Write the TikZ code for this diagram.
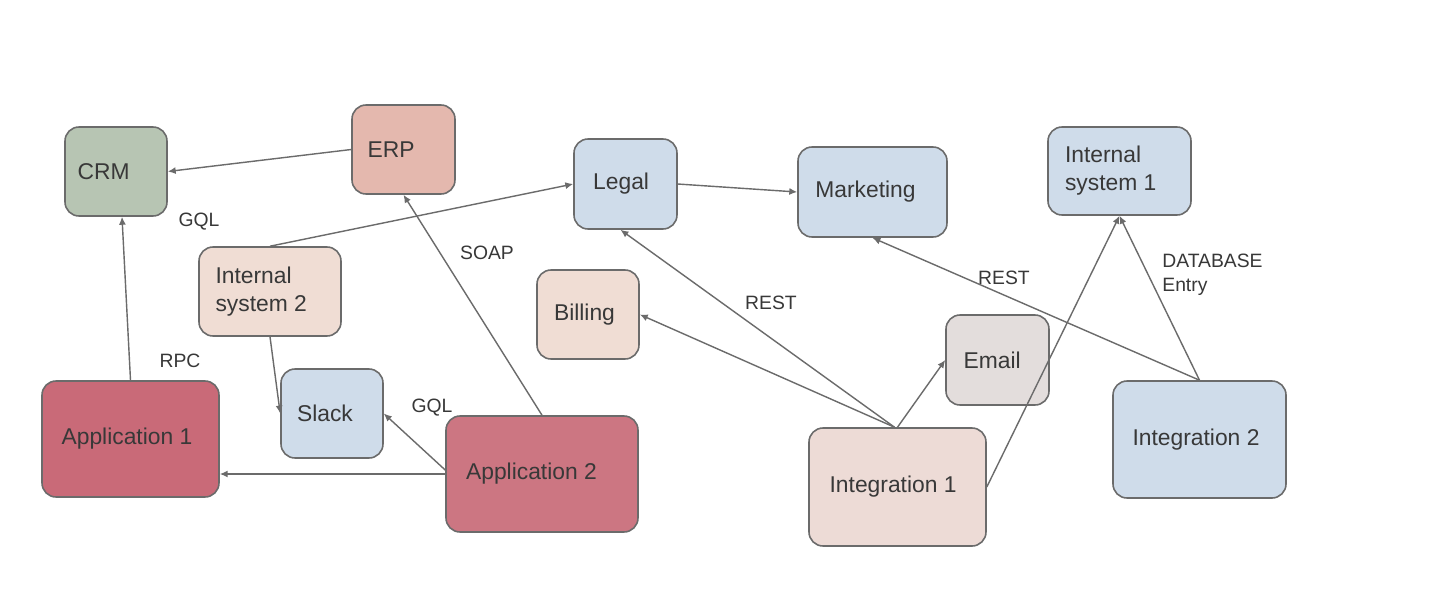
\documentclass[tikz,border=0pt]{standalone}
\usepackage{fontspec}
\setmainfont{Liberation Sans}
\usetikzlibrary{arrows.meta,calc}
\definecolor{crmc}{HTML}{B7C5B3}
\definecolor{erpc}{HTML}{E4B8AE}
\definecolor{bluec}{HTML}{CFDCEA}
\definecolor{pinkc}{HTML}{F0DDD4}
\definecolor{emailc}{HTML}{E3DDDC}
\definecolor{appa}{HTML}{C96A78}
\definecolor{appb}{HTML}{CC7682}
\definecolor{intc}{HTML}{EDDBD6}
\definecolor{edgec}{HTML}{6B6B6B}
\definecolor{txtc}{HTML}{383838}
\tikzset{
  box/.style={draw=edgec, line width=0.9pt, rounded corners=8pt, inner sep=0pt,
    align=left, text=txtc, font=\fontsize{13}{16}\selectfont},
  conn/.style={draw=edgec, line width=0.8pt, -{Latex[length=4.5pt,width=4pt]}},
  lbl/.style={text=txtc, font=\fontsize{11}{13.5}\selectfont, inner sep=0pt, align=left}
}
\begin{document}
\begin{tikzpicture}[x=0.02cm,y=-0.02cm]
\useasboundingbox (0,0) rectangle (1434,596);
\fill[white] (0,0) rectangle (1434,596);
% nodes
\node[box, fill=crmc, minimum width=102*0.02cm, minimum height=89*0.02cm] (crm) at (116,171.5) {CRM\hspace{14pt}};
\node[box, fill=erpc, minimum width=103*0.02cm, minimum height=89*0.02cm] (erp) at (403.5,149.5) {ERP\hspace{14pt}};
\node[box, fill=bluec, minimum width=103*0.02cm, minimum height=90*0.02cm] (legal) at (625.5,184) {Legal\hspace{5pt}};
\node[box, fill=bluec, minimum width=149*0.02cm, minimum height=90*0.02cm] (mkt) at (872.5,192) {Marketing\hspace{8pt}};
\node[box, fill=bluec, minimum width=143*0.02cm, minimum height=88*0.02cm] (is1) at (1119.5,171) {Internal\\system 1\hspace*{10pt}};
\node[box, fill=pinkc, minimum width=142*0.02cm, minimum height=89*0.02cm] (is2) at (270,291.5) {Internal\\system 2\hspace*{10pt}};
\node[box, fill=pinkc, minimum width=102*0.02cm, minimum height=89*0.02cm] (bill) at (588,314.5) {Billing\hspace{4pt}};
\node[box, fill=emailc, minimum width=103*0.02cm, minimum height=90*0.02cm] (email) at (997.5,360) {Email\hspace{6pt}};
\node[box, fill=bluec, minimum width=102*0.02cm, minimum height=89*0.02cm] (slack) at (332,413.5) {Slack\hspace{8pt}};
\node[box, fill=appa, minimum width=177*0.02cm, minimum height=116*0.02cm] (app1) at (130.5,439) {Application 1\hspace{4pt}};
\node[box, fill=appb, minimum width=192*0.02cm, minimum height=116*0.02cm] (app2) at (542,474) {Application 2\hspace{12pt}};
\node[box, fill=intc, minimum width=177*0.02cm, minimum height=118*0.02cm] (int1) at (897.5,487) {Integration 1\hspace{5pt}};
\node[box, fill=bluec, minimum width=173*0.02cm, minimum height=117*0.02cm] (int2) at (1199.5,439.5) {Integration 2\hspace{4pt}};
% connectors
\draw[conn] (erp.west) -- (crm.east);
\draw[conn] (app1.north) -- ($(crm.south)+(6,0)$);
\draw[conn] (is2.north) -- (legal.west);
\draw[conn] (legal.east) -- (mkt.west);
\draw[conn] (app2.north) -- (erp.south);
\draw[conn] (is2.south) -- (slack.west);
\draw[conn] ($(app2.west)+(0,-4)$) -- (slack.east);
\draw[conn] (app2.west) -- (app2.west -| app1.east);
\draw[conn] ($(int1.north)+(-3,0)$) -- ($(legal.south)+(-5,0)$);
\draw[conn] ($(int1.north)+(-3,0)$) -- (bill.east);
\draw[conn] (int1.north) -- (email.west);
\draw[conn] (int1.east) -- (is1.south);
\draw[conn] (int2.north) -- (is1.south);
\draw[conn] (int2.north) -- (mkt.south);
% labels
\node[lbl] (l1) at (199,222) {GQL};
\node[lbl] (l2) at (180,361) {RPC};
\node[lbl] (l3) at (487,253) {SOAP};
\node[lbl] (l4) at (432,408) {GQL};
\node[lbl] (l5) at (771,303) {REST};
\node[lbl] (l6) at (1004,278) {REST};
\node[lbl, anchor=west] (l7) at (1162,275) {DATABASE\\Entry};
\end{tikzpicture}
\end{document}
